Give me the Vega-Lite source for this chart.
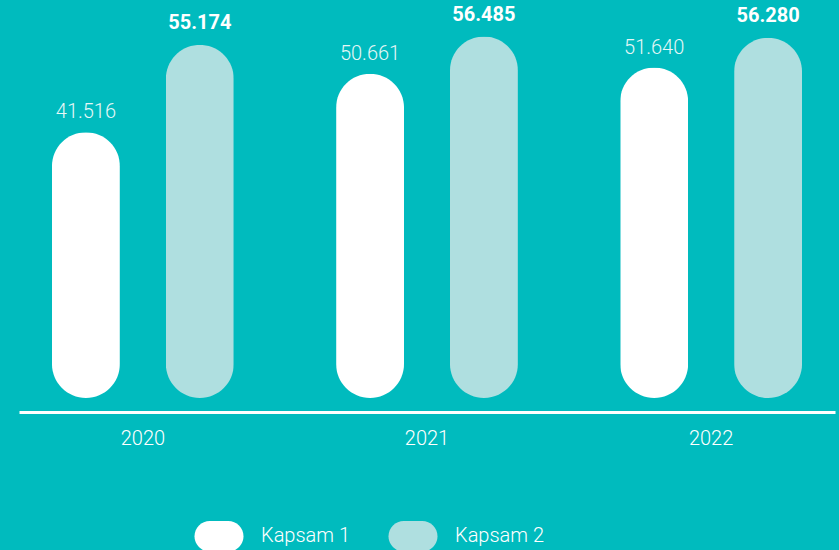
{
  "$schema": "https://vega.github.io/schema/vega-lite/v6.json",
  "width": 816,
  "height": 398,
  "autosize": {"type": "none"},
  "padding": {"left": 19, "top": 0, "right": 4, "bottom": 152},
  "background": "#00BBBE",
  "config": {"view": {"stroke": null}, "font": "Roboto"},
  "data": {
    "values": [
      {"year": "2020", "series": "Kapsam 1", "value": 41.516, "label": "41.516"},
      {"year": "2020", "series": "Kapsam 2", "value": 55.174, "label": "55.174"},
      {"year": "2021", "series": "Kapsam 1", "value": 50.661, "label": "50.661"},
      {"year": "2021", "series": "Kapsam 2", "value": 56.485, "label": "56.485"},
      {"year": "2022", "series": "Kapsam 1", "value": 51.640, "label": "51.640"},
      {"year": "2022", "series": "Kapsam 2", "value": 56.280, "label": "56.280"}
    ]
  },
  "encoding": {
    "x": {
      "field": "year",
      "type": "nominal",
      "scale": {"paddingInner": 0.36, "paddingOuter": 0.116},
      "axis": {
        "title": null,
        "labelAngle": 0,
        "ticks": false,
        "grid": false,
        "domain": true,
        "domainColor": "#FFFFFF",
        "domainWidth": 3,
        "offset": 14,
        "labelColor": "#FFFFFF",
        "labelFontSize": 20,
        "labelFontWeight": 300,
        "labelPadding": 16
      }
    },
    "xOffset": {"field": "series", "type": "nominal", "scale": {"paddingInner": 0.4035, "paddingOuter": 0}},
    "y": {"field": "value", "type": "quantitative", "scale": {"domain": [0, 62.19], "nice": false, "zero": true}, "axis": null}
  },
  "layer": [
    {
      "mark": {"type": "bar", "cornerRadius": 34},
      "encoding": {
        "color": {
          "field": "series",
          "type": "nominal",
          "scale": {"domain": ["Kapsam 1", "Kapsam 2"], "range": ["#FFFFFF", "#AFDFE0"]},
          "legend": {
            "title": null,
            "orient": "none",
            "direction": "horizontal",
            "legendX": 169,
            "legendY": 505,
            "padding": 0,
            "symbolType": "M-0.3,-0.5 H0.3 A0.5,0.5 0 0 1 0.3,0.5 H-0.3 A0.5,0.5 0 0 1 -0.3,-0.5 Z",
            "symbolSize": 3750,
            "symbolOpacity": 1,
            "symbolStrokeWidth": 0,
            "labelColor": "#FFFFFF",
            "labelFontSize": 20,
            "labelFontWeight": 300,
            "labelOffset": 11,
            "columnPadding": 31
          }
        }
      }
    },
    {
      "transform": [{"filter": "datum.series === 'Kapsam 1'"}],
      "mark": {"type": "text", "baseline": "alphabetic", "dy": -14, "fontSize": 20, "fontWeight": 300, "color": "#E6F7F7"},
      "encoding": {"text": {"field": "label"}}
    },
    {
      "transform": [{"filter": "datum.series === 'Kapsam 2'"}],
      "mark": {"type": "text", "baseline": "alphabetic", "dy": -16, "fontSize": 20, "fontWeight": "bold", "color": "#FFFFFF"},
      "encoding": {"text": {"field": "label"}}
    }
  ]
}
